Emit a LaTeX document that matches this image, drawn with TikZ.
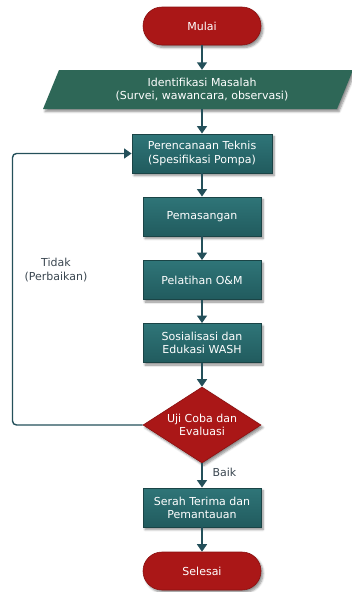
\documentclass[tikz,border=0pt]{standalone}
\usepackage{fontspec}
\setmainfont{DejaVu Sans}
\usetikzlibrary{shapes.geometric,shadows.blur,arrows.meta,calc}
\definecolor{tealtop}{HTML}{2F7578}
\definecolor{tealbot}{HTML}{215B5E}
\definecolor{tealborder}{HTML}{1A4446}
\definecolor{paracol}{HTML}{2E6757}
\definecolor{redfill}{HTML}{AA1717}
\definecolor{redborder}{HTML}{8A1010}
\definecolor{arrcol}{HTML}{24505A}
\definecolor{labelgray}{HTML}{3A4650}
\begin{document}
\begin{tikzpicture}[x=1pt,y=-1pt,
  font=\fontsize{11}{13.2}\selectfont,
  shad/.style={blur shadow={shadow xshift=2pt,shadow yshift=-2.5pt,shadow blur steps=6,shadow opacity=45}},
  proc/.style={rectangle,draw=tealborder,line width=0.9pt,top color=tealtop,bottom color=tealbot,
    text=white,minimum width=118pt,minimum height=39pt,align=center,inner sep=0pt,shad},
  term/.style={rectangle,rounded corners=19pt,draw=redborder,line width=0.6pt,fill=redfill,
    text=white,minimum width=118pt,minimum height=38pt,inner sep=0pt,shad},
  decis/.style={diamond,aspect=1.55,draw=redborder,line width=0.6pt,fill=redfill,text=white,
    minimum width=118pt,minimum height=76pt,inner sep=0pt,align=center,shad},
  arr/.style={draw=arrcol,line width=1.4pt,-{Triangle[width=10pt,length=7.5pt]}},
  lbl/.style={text=labelgray,align=center}]
\useasboundingbox (0,0) rectangle (351,592);
% parallelogram
\fill[paracol,shad] (43,109) -- (59,70) -- (353,70) -- (337,109) -- cycle;
\node[term] (mulai) at (202,26) {Mulai};
\node[text=white,align=center,minimum height=39pt,inner sep=0pt] (ident) at (202,89.5)
  {Identifikasi Masalah\\(Survei, wawancara, observasi)};
\node[proc,minimum width=140pt] (plan) at (202,153.5) {Perencanaan Teknis\\(Spesifikasi Pompa)};
\node[proc] (pasang) at (202,216.5) {Pemasangan};
\node[proc] (latih) at (202,280) {Pelatihan O\&M};
\node[proc] (sosial) at (202,343) {Sosialisasi dan\\Edukasi WASH};
\node[decis] (uji) at (202,425) {Uji Coba dan\\Evaluasi};
\node[proc] (serah) at (202,507.5) {Serah Terima dan\\Pemantauan};
\node[term] (selesai) at (202,571) {Selesai};
\coordinate (lx) at (12.5,0);
\node[lbl] (tidak) at (56,270) {Tidak\\(Perbaikan)};
\node[lbl,anchor=west] (baik) at (209,472) {Baik};
% connectors
\draw[arr] (mulai) -- (ident);
\draw[arr] (ident) -- (plan);
\draw[arr] (plan) -- (pasang);
\draw[arr] (pasang) -- (latih);
\draw[arr] (latih) -- (sosial);
\draw[arr] (sosial) -- (uji);
\draw[arr] (uji) -- (serah);
\draw[arr] (serah) -- (selesai);
\draw[arr,rounded corners=4pt] (uji.west) -- (uji.west -| lx) |- (plan.west);
\end{tikzpicture}
\end{document}
